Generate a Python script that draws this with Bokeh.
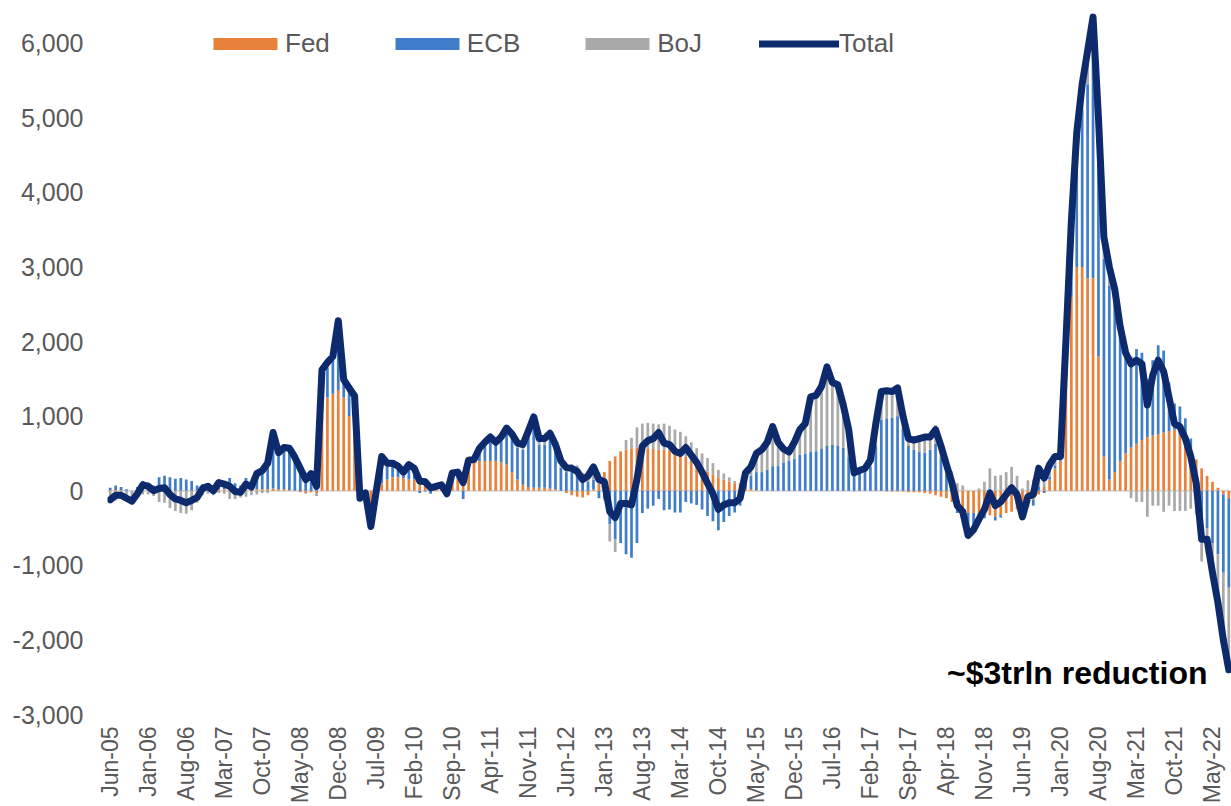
import math

from bokeh.embed import file_html
from bokeh.models import (ColumnDataSource, FixedTicker, Label, Legend,
                          LegendItem, NumeralTickFormatter, Span)
from bokeh.plotting import figure
from bokeh.resources import INLINE

# Monthly 12-month change in central bank balance sheets (USD bn), Jun-05 .. Aug-22
fed = [
    10, 10, 10, 0, 0, 10, 20, 20, 10, 10, 10, 0, 0, 0, -10, 0, 10, 10, 10, 10,
    20, 20, 20, 10, 10, 20, 10, 20, 20, 20, 30, 20, 20, 10, 0, -20, -30, -20, -40, 1100,
    1250, 1300, 1350, 1250, 1000, 1000, 20, 10, -200, 50, 100, 150, 180, 180, 170, 150, 150, 130, 100, 60,
    30, 20, 10, 100, 150, 200, 300, 380, 400, 400, 400, 400, 380, 350, 250, 150, 80, 50, 40, 40,
    40, 30, 20, 0, -30, -60, -80, -90, -60, 20, 100, 250, 400, 460, 520, 550, 570, 580, 580, 570,
    560, 550, 550, 540, 520, 500, 460, 400, 340, 300, 260, 220, 180, 150, 120, 100, 80, 40, 20, 10,
    0, 0, 0, 0, 0, 0, 0, 0, 0, 0, 0, 0, 0, 0, 0, 0, 0, 0, 0, 0,
    0, 0, 0, -10, -10, -10, -10, -20, -20, -20, -30, -40, -60, -80, -100, -150, -200, -250, -300, -300,
    -300, -320, -330, -350, -330, -300, -280, -250, -230, -180, -120, -50, 50, 150, 300, 400, 1800, 2600, 3000, 3000,
    2850, 2850, 1800, 460, 150, 250, 400, 500, 580, 630, 680, 720, 740, 760, 780, 800, 820, 750, 620, 500,
    420, 300, 200, 120, 40, -50, -100,
]
ecb = [
    30, 60, 40, 20, 0, 40, 110, 90, 60, 170, 190, 180, 160, 170, 150, 130, 60, 80, 90, 50,
    120, 110, 150, 90, 60, 150, 100, 260, 280, 380, 720, 480, 550, 540, 430, 320, 190, 250, 130, 450,
    400, 450, 800, 200, 330, 230, -80, -30, -250, -50, 330, 190, 170, 130, 60, 180, 130, -30, -10, -40,
    10, 40, -80, 100, 60, -110, 80, 20, 130, 200, 270, 200, 290, 430, 450, 430, 470, 680, 870, 580,
    580, 650, 510, 310, 250, 250, 220, 120, 120, 130, -100, -100, -450, -650, -700, -850, -900, -700, -300, -240,
    -200, -110, -260, -250, -290, -290, -150, -170, -190, -250, -340, -410, -530, -420, -340, -290, -200, 160, 180, 240,
    250, 280, 330, 330, 380, 400, 430, 480, 500, 520, 530, 560, 600, 620, 600, 580, 450, 250, 260, 280,
    320, 600, 950, 970, 980, 1000, 850, 600, 550, 520, 510, 550, 630, 450, 220, 40, -100, -100, -220, -150,
    -110, -50, 30, -50, -30, 20, 60, 20, -150, -40, -80, 60, -30, 40, 40, 30, 150, 900, 1550, 2100,
    2600, 3000, 2800, 2650, 2600, 2250, 1650, 1300, 1220, 1270, 1170, 780, 1010, 1190, 1100, 650, 350, 380, 350, 200,
    -50, -450, -500, -700, -850, -1050, -1200,
]
boj = [
    -160, -130, -110, -120, -140, -90, -50, -50, -70, -150, -160, -230, -270, -300, -300, -260, -160, -60, -40, -60,
    -30, -40, -110, -110, -90, -80, -60, -50, -30, -30, 30, 10, 10, 20, 20, 0, -10, 0, -30, 70,
    70, 50, 130, 40, 50, 40, -40, -10, -30, 0, 30, 30, 20, 20, 20, 20, 20, 30, 30, 20,
    20, 20, 30, 40, 40, 20, 30, 20, 40, 50, 50, 50, 50, 60, 60, 60, 70, 70, 80, 80,
    80, 90, 90, 90, 90, 110, 120, 120, 140, 170, 150, -30, -230, -170, 10, 130, 140, 270, 320, 340,
    340, 340, 350, 330, 300, 290, 270, 250, 230, 200, 180, 150, 100, 80, 60, 30, 20, 40, 120, 250,
    300, 370, 530, 320, 180, 120, 220, 340, 400, 740, 750, 840, 1060, 830, 820, 570, 370, -10, 10, 20,
    90, 300, 380, 380, 360, 390, 160, 120, 150, 200, 240, 210, 250, 230, 230, 220, 100, 70, -80, -70,
    30, 120, 270, 200, 210, 230, 260, 180, 30, 140, 150, 290, 150, 160, 120, 30, 50, 100, 250, 350,
    450, 500, 400, 290, 250, 200, 150, 50, -100, -150, -150, -350, -200, -200, -280, -200, -270, -270, -270, -240,
    -270, -500, -350, -520, -690, -900, -1100,
]
total = [
    -120, -60, -60, -100, -140, -40, 80, 60, 0, 30, 40, -50, -110, -130, -160, -130, -90, 30, 60, 0,
    110, 90, 60, -10, -20, 90, 50, 230, 270, 370, 780, 510, 580, 570, 450, 300, 150, 230, 60, 1620,
    1720, 1800, 2280, 1490, 1380, 1270, -100, -30, -480, 0, 460, 370, 370, 330, 250, 350, 300, 130, 120, 40,
    60, 80, -40, 240, 250, 110, 410, 420, 570, 650, 720, 650, 720, 840, 760, 640, 620, 800, 990, 700,
    700, 770, 620, 400, 310, 300, 260, 150, 200, 320, 150, 120, -280, -360, -170, -170, -190, 150, 600, 670,
    700, 780, 640, 620, 530, 500, 580, 480, 380, 250, 100, -40, -250, -190, -160, -160, -100, 240, 320, 500,
    550, 650, 860, 650, 560, 520, 650, 820, 900, 1260, 1280, 1400, 1660, 1450, 1420, 1150, 820, 240, 270, 300,
    410, 900, 1330, 1340, 1330, 1380, 1000, 700, 680, 700, 720, 720, 820, 600, 350, 110, -200, -280, -600, -520,
    -380, -250, -30, -200, -150, -50, 40, -50, -350, -80, -50, 300, 170, 350, 460, 460, 2000, 3600, 4800, 5450,
    5900, 6350, 5000, 3400, 3000, 2700, 2200, 1850, 1700, 1750, 1700, 1150, 1550, 1750, 1600, 1250, 900, 860, 700, 460,
    100, -650, -650, -1100, -1500, -2000, -2400,
]

tick_labels = [
    "Jun-05", "Jan-06", "Aug-06", "Mar-07", "Oct-07", "May-08", "Dec-08", "Jul-09",
    "Feb-10", "Sep-10", "Apr-11", "Nov-11", "Jun-12", "Jan-13", "Aug-13", "Mar-14",
    "Oct-14", "May-15", "Dec-15", "Jul-16", "Feb-17", "Sep-17", "Apr-18", "Nov-18",
    "Jun-19", "Jan-20", "Aug-20", "Mar-21", "Oct-21", "May-22",
]
y_ticks = [-3000, -2000, -1000, 0, 1000, 2000, 3000, 4000, 5000, 6000]

series_names = ["Fed", "ECB", "BoJ"]
series_colors = ["#E8823A", "#3F7DCB", "#A9A9A9"]
total_color = "#0D2A6C"
FONT = "Liberation Sans"

n = len(total)
xs = list(range(n))

# Excel-style stacking: positives build up from zero, negatives build down
pos_base = [0.0] * n
neg_base = [0.0] * n
stacks = []
for vals in (fed, ecb, boj):
    bottoms, tops = [], []
    for i, v in enumerate(vals):
        if v >= 0:
            bottoms.append(pos_base[i])
            tops.append(pos_base[i] + v)
            pos_base[i] += v
        else:
            tops.append(neg_base[i])
            bottoms.append(neg_base[i] + v)
            neg_base[i] += v
    stacks.append((bottoms, tops))

p = figure(
    width=1231, height=806,
    x_range=(-0.5, n - 0.5), y_range=(-3000, 6573),
    output_backend="svg", toolbar_location=None,
    min_border_left=107, min_border_right=0, min_border_top=0, min_border_bottom=91,
)
p.outline_line_color = None
p.grid.visible = False
p.background_fill_color = "white"

zero = Span(location=0, dimension="width", line_color="#D9D9D9", line_width=2, level="underlay")
p.add_layout(zero)

bar_renderers = []
for (bottoms, tops), name, color in zip(stacks, series_names, series_colors):
    src = ColumnDataSource(dict(x=xs, bottom=bottoms, top=tops))
    r = p.vbar(x="x", bottom="bottom", top="top", width=0.5, source=src,
               fill_color=color, line_color=None)
    bar_renderers.append(r)

line_src = ColumnDataSource(dict(x=xs, y=total))
r_total = p.line(x="x", y="y", source=line_src, line_color=total_color, line_width=7,
                 line_join="round", line_cap="round")

# y axis
p.yaxis.ticker = FixedTicker(ticks=y_ticks)
p.yaxis.formatter = NumeralTickFormatter(format="0,0")
p.yaxis.axis_line_color = None
p.yaxis.major_tick_line_color = None
p.yaxis.minor_tick_line_color = None
p.yaxis.major_tick_out = 0
p.yaxis.major_tick_in = 0
p.yaxis.minor_tick_out = 0
p.yaxis.major_label_text_font = FONT
p.yaxis.major_label_text_font_size = "25px"
p.yaxis.major_label_text_color = "#595959"
p.yaxis.major_label_standoff = 24

# x axis: a label every seven months
tick_pos = list(range(0, n, 7))[:len(tick_labels)]
p.xaxis.ticker = FixedTicker(ticks=tick_pos)
p.xaxis.major_label_overrides = {t: lab for t, lab in zip(tick_pos, tick_labels)}
p.xaxis.major_label_orientation = math.pi / 2
p.xaxis.axis_line_color = None
p.xaxis.major_tick_line_color = None
p.xaxis.minor_tick_line_color = None
p.xaxis.major_tick_out = 0
p.xaxis.major_tick_in = 0
p.xaxis.minor_tick_out = 0
p.xaxis.major_label_text_font = FONT
p.xaxis.major_label_text_font_size = "23px"
p.xaxis.major_label_text_color = "#595959"
p.xaxis.major_label_standoff = 12

legend = Legend(
    items=[LegendItem(label=nm, renderers=[r]) for nm, r in zip(series_names, bar_renderers)]
    + [LegendItem(label="Total", renderers=[r_total])],
    orientation="horizontal", location=(98, 655),
    glyph_width=80, glyph_height=15, label_standoff=0, spacing=57,
    padding=0, margin=0, border_line_color=None, background_fill_alpha=0,
    label_text_font=FONT, label_text_font_size="26px", label_text_color="#595959",
)
p.add_layout(legend, "center")

note = Label(
    x=1100, y=42, x_units="screen", y_units="screen",
    text="~$3trln reduction", text_align="right", text_baseline="alphabetic",
    text_font=FONT, text_font_size="32px", text_font_style="bold", text_color="#000000",
)
p.add_layout(note)

open("out.html", "w").write(file_html(p, INLINE))
